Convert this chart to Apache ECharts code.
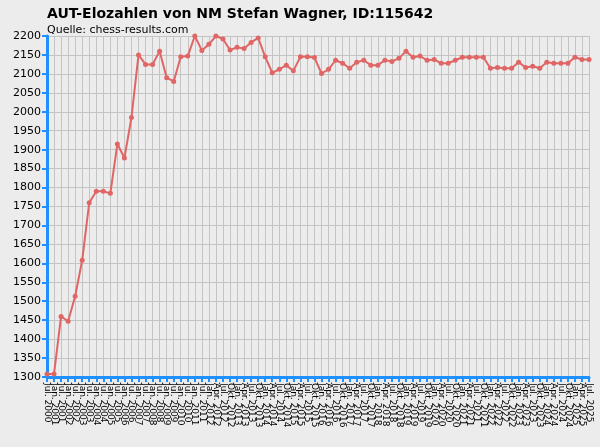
<!DOCTYPE html><html><head><meta charset="utf-8">
<script src="https://cdn.jsdelivr.net/npm/echarts@6/dist/echarts.min.js"></script>
<style>html,body{margin:0;padding:0;background:#ececec}#c{width:600px;height:447px}</style></head><body><div id="c"></div>
<script>
const categories=(function(){const a=[];for(let y=2000;y<=2011;y++){if(y>2000)a.push('Jan. '+y);a.push('Jul. '+y);}a.push('Jan. 2012');
for(let y=2012;y<=2025;y++){for(const m of['Jan.','Apr.','Jul.','Okt.']){if(y===2012&&m==='Jan.')continue;if(y===2025&&m==='Okt.')continue;a.push(m+' '+y);}}return a;})();
const ratings=[1308,1308,1460,1447,1513,1608,1760,1790,1790,1785,1915,1878,1985,2150,2125,2125,2160,2090,2080,2145,2147,2200,2162,2178,2200,2192,2163,2170,2167,2183,2195,2145,2103,2112,2123,2108,2145,2145,2143,
2101,2112,2136,2128,2115,2131,2136,2123,2123,2136,2133,2141,2160,2144,2147,2136,2138,2128,2128,2136,2144,2144,2144,2144,2115,2117,2115,2115,2131,2117,2120,2115,2131,2128,2128,2128,2144,2138,2138];
const chart=echarts.init(document.getElementById('c'));
chart.setOption({
backgroundColor:'#ececec',animation:false,
title:{text:'AUT-Elozahlen von NM Stefan Wagner, ID:115642',left:42,top:2,textStyle:{fontSize:14,fontWeight:'bold',color:'#000',fontFamily:'DejaVu Sans'},
subtext:'Quelle: chess-results.com',subtextStyle:{fontSize:11,color:'#000',fontFamily:'DejaVu Sans'},itemGap:4},
grid:{left:47,right:11,top:36,bottom:70},
xAxis:{type:'category',data:categories,boundaryGap:false,
axisLine:{lineStyle:{color:'#1e90ff',width:3}},axisTick:{interval:0,length:5,lineStyle:{color:'#1e90ff',width:2}},
axisLabel:{interval:0,rotate:-90,fontSize:9,color:'#000',fontFamily:'DejaVu Sans',margin:6},
splitLine:{show:true,interval:0,lineStyle:{color:'#c4c4c4'}}},
yAxis:{type:'value',min:1300,max:2200,interval:50,
axisLine:{show:true,lineStyle:{color:'#1e90ff',width:3}},axisTick:{show:true,length:5,lineStyle:{color:'#1e90ff',width:2}},
axisLabel:{fontSize:11,color:'#000',fontFamily:'DejaVu Sans',margin:6,formatter:v=>String(v)},
splitLine:{lineStyle:{color:'#c4c4c4'}}},
series:[{type:'line',data:ratings,symbol:'circle',symbolSize:5,lineStyle:{color:'#e06666',width:2},itemStyle:{color:'#e06666'}}]
});
</script></body></html>
